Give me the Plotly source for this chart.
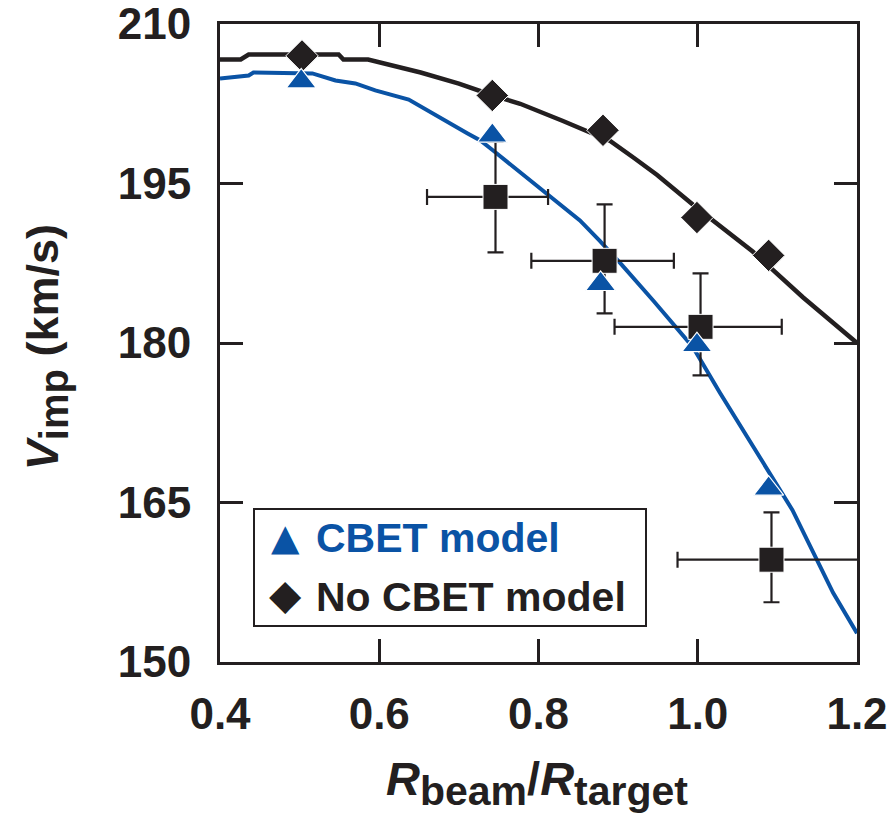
import plotly.graph_objects as go

# ---------------- data ----------------
# No-CBET model curve
nocbet_curve_x = [0.400, 0.426, 0.436, 0.549, 0.555, 0.586, 0.652, 0.700, 0.742, 0.777,
                  0.830, 0.890, 0.920, 0.949, 0.999, 1.069, 1.132, 1.200]
nocbet_curve_y = [206.66, 206.66, 207.13, 207.13, 206.66, 206.66, 205.44, 204.4, 203.3, 202.5,
                  200.9, 199.0, 197.4, 195.8, 192.7, 188.6, 184.3, 180.0]

# CBET model curve
cbet_curve_x = [0.400, 0.436, 0.442, 0.507, 0.516, 0.545, 0.570, 0.595, 0.637, 0.711, 0.727,
                0.743, 0.811, 0.852, 0.877, 0.903, 0.944, 0.994, 1.028, 1.078, 1.119,
                1.170, 1.200]
cbet_curve_y = [204.88, 205.16, 205.44, 205.44, 205.35, 204.69, 204.41, 203.75, 202.9, 199.71,
                199.05, 198.1, 194.07, 191.53, 189.6, 187.49, 184.0, 179.6, 175.3, 169.26,
                164.28, 156.5, 152.7]

# simulation points
nocbet_pts_x = [0.503, 0.742, 0.881, 0.999, 1.089]
nocbet_pts_y = [207.0, 203.28, 200.0, 191.8, 188.24]
cbet_pts_x = [0.502, 0.742, 0.878, 0.999, 1.089]
cbet_pts_y = [204.6, 199.5, 185.55, 179.8, 166.3]

# experimental points with error bars
exp_x = [0.746, 0.883, 1.0035, 1.0926]
exp_y = [193.74, 187.73, 181.52, 159.62]
exp_xerr_plus = [0.066, 0.087, 0.102, 0.118]
exp_xerr_minus = [0.086, 0.092, 0.108, 0.118]
exp_yerr_plus = [5.2, 5.31, 5.03, 4.46]
exp_yerr_minus = [5.22, 4.94, 4.56, 4.0]

x_ticks = [0.4, 0.6, 0.8, 1.0, 1.2]
x_tick_text = ["0.4", "0.6", "0.8", "1.0", "1.2"]
y_ticks = [150, 165, 180, 195, 210]
y_tick_text = ["150", "165", "180", "195", "210"]

legend_labels = ["CBET model", "No CBET model"]

# ---------------- style ----------------
BLUE = "#0a53a5"
BLACK = "#231f20"
FONT = "Liberation Sans"

fig = go.Figure()

fig.add_trace(go.Scatter(x=nocbet_curve_x, y=nocbet_curve_y, mode="lines",
                         line=dict(color=BLACK, width=4.5), showlegend=False))
fig.add_trace(go.Scatter(x=cbet_curve_x, y=cbet_curve_y, mode="lines",
                         line=dict(color=BLUE, width=4), showlegend=False))
fig.add_trace(go.Scatter(
    x=exp_x, y=exp_y, mode="markers",
    marker=dict(symbol="square", size=25, color=BLACK, line=dict(color="white", width=1)),
    error_x=dict(type="data", symmetric=False, array=exp_xerr_plus, arrayminus=exp_xerr_minus,
                 color=BLACK, thickness=2.2, width=8),
    error_y=dict(type="data", symmetric=False, array=exp_yerr_plus, arrayminus=exp_yerr_minus,
                 color=BLACK, thickness=2.2, width=8),
    showlegend=False))
fig.add_trace(go.Scatter(x=nocbet_pts_x, y=nocbet_pts_y, mode="markers",
                         marker=dict(symbol="diamond", size=25, color=BLACK,
                                     line=dict(color="white", width=1)),
                         showlegend=False))
fig.add_trace(go.Scatter(x=cbet_pts_x, y=cbet_pts_y, mode="markers",
                         marker=dict(symbol="triangle-up", size=26, color=BLUE,
                                     line=dict(color="white", width=1.2)),
                         showlegend=False))

axis_common = dict(
    showline=True, linecolor=BLACK, linewidth=3, mirror="ticks",
    ticks="inside", ticklen=23, tickwidth=2.5, tickcolor=BLACK,
    showgrid=False, zeroline=False, automargin=False,
    ticklabeloverflow="allow",
    tickfont=dict(family=FONT, size=44, color=BLACK, weight="bold"),
)

fig.update_xaxes(range=[0.4, 1.2], tickvals=x_ticks, ticktext=x_tick_text,
                 ticklabelstandoff=11, **axis_common)
fig.update_yaxes(range=[150, 210], tickvals=y_ticks, ticktext=y_tick_text,
                 ticklabelstandoff=17, **axis_common)

annotations = [
    dict(text="<i>V</i><sub><span style='font-size:40px'>imp</span></sub> (km/s)",
         xref="paper", yref="paper", x=-0.272, y=0.493, textangle=-90,
         xanchor="center", yanchor="middle", showarrow=False,
         font=dict(family=FONT, size=45, color=BLACK, weight="bold")),
    dict(text="<i>R</i><sub><span style='font-size:41px'>beam</span></sub>/<i>R</i><sub><span style='font-size:41px'>target</span></sub>",
         xref="paper", yref="paper", x=0.498, y=-0.19,
         xanchor="center", yanchor="middle", showarrow=False,
         font=dict(family=FONT, size=47, color=BLACK, weight="bold")),
    # legend
    dict(text="▲", xref="paper", yref="paper", x=(285.5 - 220) / 637, y=(662 - 537) / 638,
         xanchor="center", yanchor="middle", showarrow=False,
         font=dict(family="DejaVu Sans", size=37, color=BLUE)),
    dict(text="◆", xref="paper", yref="paper", x=(285.5 - 220) / 637, y=(662 - 594) / 638,
         xanchor="center", yanchor="middle", showarrow=False,
         font=dict(family="DejaVu Sans", size=42, color=BLACK)),
    dict(text=legend_labels[0], xref="paper", yref="paper", x=(314 - 220) / 637, y=(662 - 538) / 638,
         xanchor="left", yanchor="middle", showarrow=False,
         font=dict(family=FONT, size=41, color=BLUE, weight="bold")),
    dict(text=legend_labels[1], xref="paper", yref="paper", x=(314 - 220) / 637, y=(662 - 597) / 638,
         xanchor="left", yanchor="middle", showarrow=False,
         font=dict(family=FONT, size=41, color=BLACK, weight="bold")),
]

shapes = [dict(type="rect", xref="paper", yref="paper",
               x0=(254 - 220) / 637, x1=(646 - 220) / 637,
               y0=(662 - 626) / 638, y1=(662 - 509) / 638,
               line=dict(color=BLACK, width=2), fillcolor="white", layer="above")]

fig.update_layout(
    width=890, height=821,
    margin=dict(l=220, r=33, t=24, b=159),
    paper_bgcolor="white", plot_bgcolor="white",
    annotations=annotations, shapes=shapes,
    showlegend=False,
)

fig.write_html("out.html")
